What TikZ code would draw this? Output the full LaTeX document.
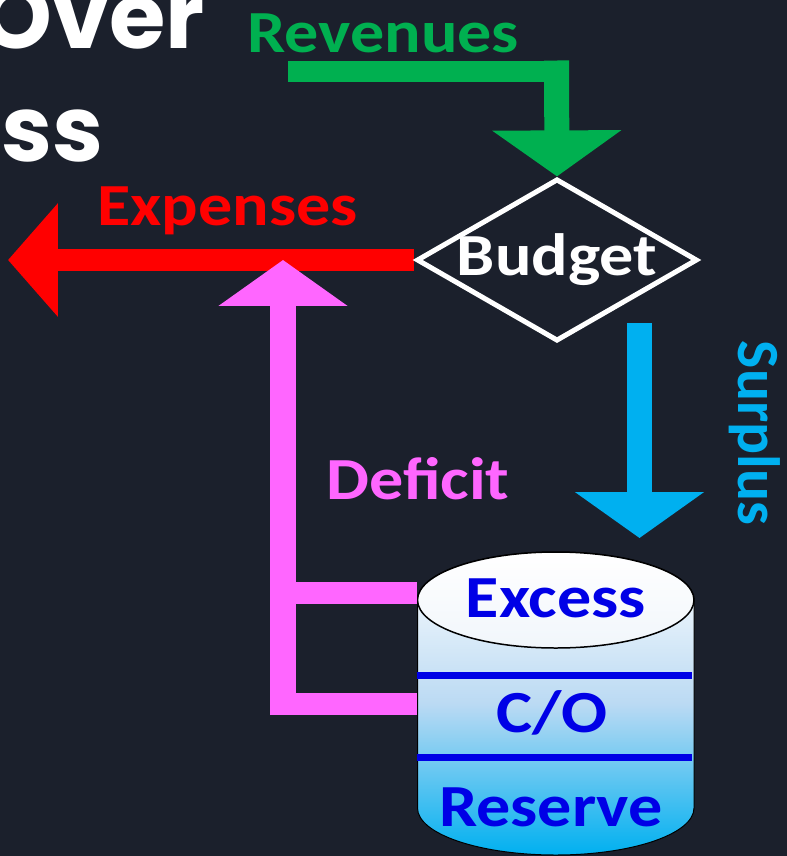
\documentclass[tikz,border=0pt]{standalone}
\usepackage{fontspec}
\setmainfont{Carlito}
\newfontfamily\titlefont{Poppins}
\newfontfamily\widefont[FakeStretch=1.14]{Carlito}
\usetikzlibrary{positioning}
\usetikzlibrary{arrows.meta}
\usetikzlibrary{shapes.geometric}
\usepackage{xcolor}
\definecolor{slide}{HTML}{1B202C}
\definecolor{revgreen}{HTML}{00B050}
\definecolor{surplusblue}{HTML}{00B0F0}
\definecolor{deficitpink}{HTML}{FF66FF}
\definecolor{levelblue}{HTML}{0000E6}
\definecolor{tankmid}{HTML}{BBDAF3}
\definecolor{tanklid}{HTML}{F1F6FB}
\tikzset{
    titletext/.style={text=white, font=\titlefont\fontsize{52}{52}\selectfont\bfseries, inner sep=0pt},
    flowlabel/.style={font=\widefont\fontsize{34}{34}\selectfont\bfseries, inner sep=0pt},
    levellabel/.style={flowlabel, text=levelblue},
    bigarrow/.style={-{Triangle[length=0.92cm, width=2.54cm]}},
}

\begin{document}
\begin{tikzpicture}[x=0.02cm, y=-0.02cm]
    \useasboundingbox[fill=slide] (0,0) rectangle (787,856);

    % title
    \node (over) [titletext, anchor=base east] at (205,48) {Over};
    \node (ss) [titletext, anchor=base east] at (104,161) {ss};

    % budget
    \coordinate (redstart) at (414,260);
    \coordinate (redtip) at (8,260);
    \draw[red, line width=0.44cm, -{Triangle[length=1cm, width=2.22cm]}] (redstart) -- (redtip);
    \node (budget) [draw=white, line width=0.1cm, fill=slide, diamond, aspect=1.73, inner sep=-0.035cm, text=white, font=\widefont\fontsize{34}{34}\selectfont\bfseries] at (557,260) {Budget};

    % revenues
    \node (revenues) [flowlabel, text=revgreen, anchor=base west] at (247,52) {Revenues};
    \coordinate (revstart) at (288,71.5);
    \coordinate (revcorner) at (569,71.5);
    \coordinate (revdown) at (556.5,60.5);
    \draw[revgreen, line width=0.42cm] (revstart) -- (revcorner);
    \draw[revgreen, line width=0.5cm, bigarrow] (revdown) -- (budget.north);

    % surplus
    \coordinate (surstart) at (639.5,323);
    \coordinate (surtip) at (639.5,538);
    \draw[surplusblue, line width=0.5cm, bigarrow] (surstart) -- (surtip);
    \node (surplus) [text=surplusblue, font=\fontsize{34}{34}\selectfont\bfseries, inner sep=0pt, rotate=-90] at (755,433) {Surplus};

    % reserve tank
    \path[top color=white, bottom color=surplusblue, middle color=tankmid, draw=black, line width=0.02cm]
        (417.5,600) -- (417.5,808) arc[start angle=180, end angle=0, x radius=138.25, y radius=47]
        -- (694,600) arc[start angle=0, end angle=-180, x radius=138.25, y radius=48] -- cycle;
    \path[top color=white, bottom color=tanklid, draw=black, line width=0.03cm]
        (555.75,600) ellipse [x radius=138.25, y radius=48];
    \coordinate (lineaw) at (417,675.5);
    \coordinate (lineae) at (691.5,675.5);
    \coordinate (linebw) at (417,757);
    \coordinate (linebe) at (691.5,757);
    \draw[levelblue, line width=0.14cm] (lineaw) -- (lineae);
    \draw[levelblue, line width=0.14cm] (linebw) -- (linebe);
    \node (excess) [levellabel, anchor=base] at (556,617) {Excess};
    \node (carry) [levellabel, anchor=base] at (552,732) {C/O};
    \node (reserve) [levellabel, anchor=base] at (551,826) {Reserve};

    % deficit, drawn over the expenses line
    \node (deficit) [flowlabel, text=deficitpink, anchor=base west] at (326,499) {Deficit};
    \coordinate (upperout) at (417,593);
    \coordinate (upperin) at (270,593);
    \coordinate (lowerout) at (417,704);
    \coordinate (lowerin) at (270,704);
    \coordinate (pinkfoot) at (283,715);
    \coordinate (pinktip) at (283,260);
    \draw[deficitpink, line width=0.44cm] (upperout) -- (upperin);
    \draw[deficitpink, line width=0.44cm] (lowerout) -- (lowerin);
    \draw[deficitpink, line width=0.52cm, bigarrow] (pinkfoot) -- (pinktip);

    % expenses
    \node (expenses) [flowlabel, text=red, anchor=base west] at (97,225) {Expenses};
\end{tikzpicture}
\end{document}
